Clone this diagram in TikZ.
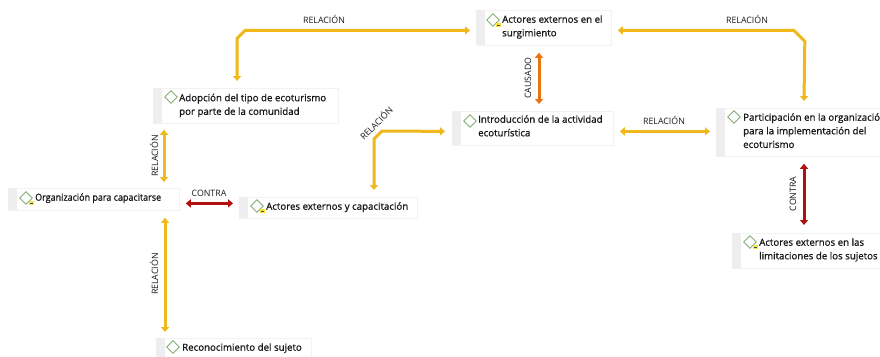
\documentclass[tikz,border=0pt]{standalone}
\usepackage{fontspec}
\setmainfont{Open Sans}
\newfontfamily\labelfont[FakeBold=1]{Open Sans}
\usetikzlibrary{arrows.meta,calc,shapes.geometric}
\definecolor{relc}{HTML}{F0B81A}
\definecolor{conc}{HTML}{B30F0F}
\definecolor{cauc}{HTML}{E8730F}
\definecolor{stripc}{HTML}{EEEEEE}
\definecolor{edgec}{HTML}{F2F2F2}
\definecolor{diac}{HTML}{86AE74}
\definecolor{notec}{HTML}{F5E63C}
\tikzset{
  box/.style={draw=edgec,line width=.8pt,fill=white,anchor=north west,inner sep=0pt},
  strip/.style={fill=stripc,anchor=north west,inner sep=0pt,minimum width=9pt},
  label/.style={anchor=north west,inner sep=0pt,align=left,font=\fontsize{9.7}{13.6}\labelfont,text=black!90},
  dia/.style={diamond,draw=diac,line width=.9pt,fill=white,inner sep=0pt,minimum width=13pt,minimum height=13pt,aspect=1},
  note/.style={fill=notec,inner sep=0pt,minimum width=5pt,minimum height=4pt},
  noteline/.style={draw=black!70,line width=.6pt},
  link/.style={line width=3pt,line join=miter,{Triangle[width=8pt,length=5pt]}-{Triangle[width=8pt,length=5pt]}},
  rel/.style={link,draw=relc},
  con/.style={link,draw=conc},
  cau/.style={link,draw=cauc},
  tag/.style={font=\fontsize{8.8}{10}\selectfont,text=black!90,inner sep=0pt},
}
% name, x, y, w, h
\newcommand{\conceptbox}[5]{%
  \node[box,minimum width=#4pt,minimum height=#5pt] (#1) at (#2,#3) {};
  \node[strip,minimum height=#5pt] (#1s) at (#2,#3) {};
}
\begin{document}
\begin{tikzpicture}[x=1pt,y=-1pt]
\clip (0,0) rectangle (880,356);
\fill[white] (0,0) rectangle (880,356);

\conceptbox{A}{153}{88}{185}{35}
\conceptbox{org}{8}{188}{171}{22}
\conceptbox{cap}{239}{197}{178}{21}
\conceptbox{recon}{156}{338}{155}{25}
\conceptbox{surg}{476}{10}{135}{35}
\conceptbox{intro}{452}{111}{161}{34}
\conceptbox{part}{716}{108}{180}{48}
\conceptbox{limit}{732}{233}{155}{35}

\node[dia] (Ad) at (171,97) {};
\node[dia] (orgd) at (26,198) {};
\node[dia] (capd) at (257,206) {};
\node[dia] (recond) at (173,347) {};
\node[dia] (surgd) at (493,20) {};
\node[dia] (introd) at (470,121) {};
\node[dia] (partd) at (734,117) {};
\node[dia] (limitd) at (750,242) {};

\node[note] (orgn) at (31.5,203) {};
\node[note] (capn) at (262.5,211) {};
\node[note] (surgn) at (498.5,25) {};
\node[note] (limitn) at (755.5,247) {};
\foreach \n in {orgn,capn,surgn,limitn}{\draw[noteline] ([xshift=1pt]\n.west) -- ([xshift=-1pt]\n.east);}

\node[label] (At) at (179,91.5) {\strut Adopción del tipo de ecoturismo\\por parte de la comunidad};
\node[label] (orgt) at (35,191) {\strut\scalebox{.925}[1]{Organización para capacitarse}};
\node[label] (capt) at (266,200) {\strut Actores externos y capacitación};
\node[label] (recont) at (182,341) {\strut Reconocimiento del sujeto};
\node[label] (surgt) at (502,13) {\strut Actores externos en el\\surgimiento};
\node[label] (introt) at (478,113) {\strut Introducción de la actividad\\ecoturística};
\node[label] (partt) at (743,111) {\strut Participación en la organización\\para la implementación del\\ecoturismo};
\node[label] (limitt) at (759,236) {\strut Actores externos en las\\limitaciones de los sujetos};

\draw[rel] ($(A.south west)+(11,6)$) -- ($(org.north west)+(156,-6)$);
\draw[rel] ($(org.south west)+(157,7)$) -- ($(recon.north west)+(9,-6)$);
\draw[con] ($(org.east)+(6,4)$) -- ($(cap.west)+(-6,-4.5)$);
\draw[rel] ($(surg.west)+(-6,2.5)$) -- ++(-225,0) -- ++(-8,8) -- ($(A.north west)+(84,-7)$);
\draw[rel] ($(cap.north west)+(135,-7)$) -- ++(0,-51) -- ++(8,-8) -- ($(intro.west)+(-7,3)$);
\draw[cau] ($(surg.south west)+(63,7)$) -- ($(intro.north west)+(87,-7)$);
\draw[rel] ($(intro.east)+(6,3)$) -- ($(part.west)+(-6,-1)$);
\draw[rel] ($(surg.east)+(6,2.5)$) -- ++(176,0) -- ++(11,11) -- ($(part.north west)+(88,-7)$);
\draw[con] ($(part.south west)+(88,7)$) -- ($(limit.north west)+(72,-8)$);

\node[tag] (t1) at (324,19) {RELACIÓN};
\node[tag] (t2) at (747,19) {RELACIÓN};
\node[tag] (t3) at (664,120) {RELACIÓN};
\node[tag,rotate=90] (t4) at (528,78) {CAUSADO};
\node[tag,rotate=90] (t5) at (793,194) {CONTRA};
\node[tag] (t6) at (209,193) {CONTRA};
\node[tag,rotate=90] (t7) at (154,156) {RELACIÓN};
\node[tag,rotate=90] (t8) at (154,274) {RELACIÓN};
\node[tag,rotate=45] (t9) at (376,123) {RELACIÓN};
\end{tikzpicture}
\end{document}
